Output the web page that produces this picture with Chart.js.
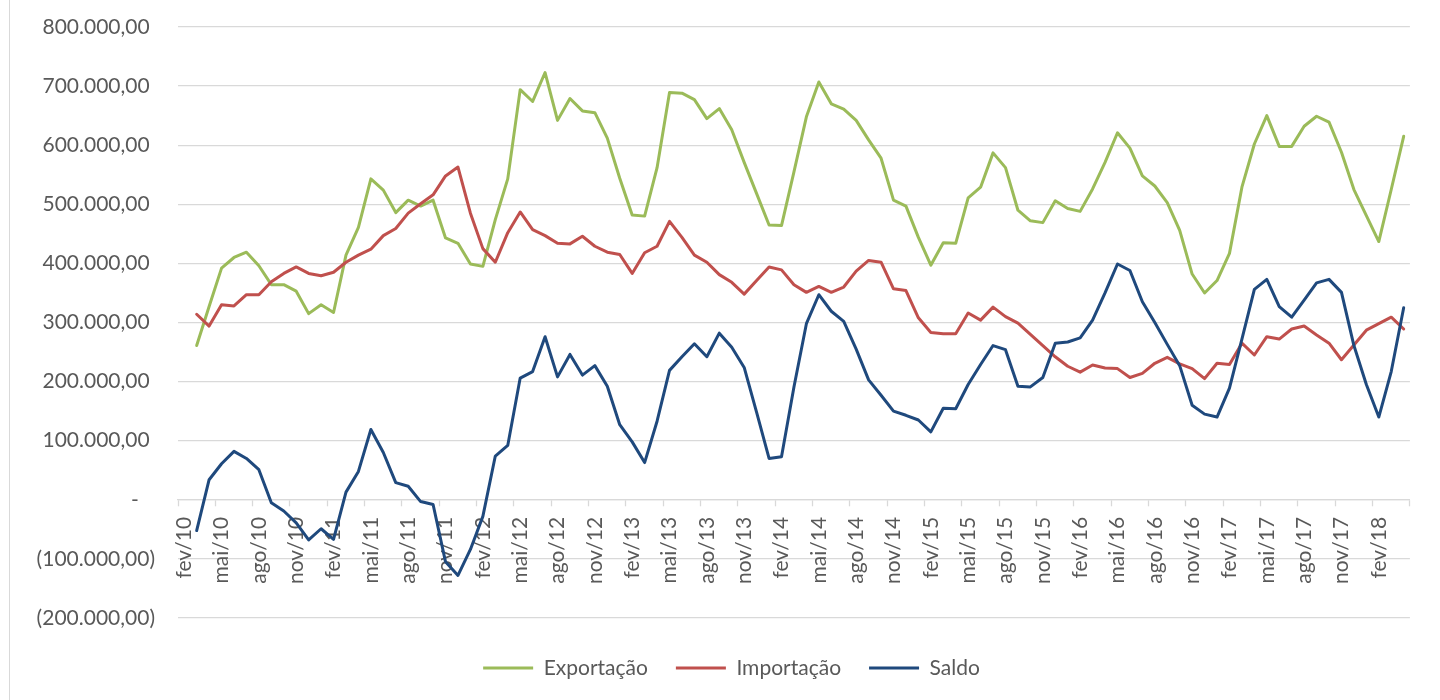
<!DOCTYPE html>
<html><head><meta charset="utf-8">
<script src="https://cdn.jsdelivr.net/npm/chart.js@4.4.0/dist/chart.umd.min.js"></script>
<style>
html,body{margin:0;padding:0;background:#fff;}
#wrap{position:relative;width:1440px;height:700px;overflow:hidden;background:#fff;}
#edge{position:absolute;left:9px;top:0;width:1px;height:700px;background:#d9d9d9;}
canvas{position:absolute;left:0;top:0;}
</style></head><body>
<div id="wrap"><div id="edge"></div><canvas id="c" width="1440" height="700"></canvas></div>
<script>
const monthNames = ['jan','fev','mar','abr','mai','jun','jul','ago','set','out','nov','dez'];
const firstYear = 2010, firstMonth = 1, monthCount = 99; // fev/10 .. abr/18
const categories = [];
for (let k = 0; k < monthCount; k++) {
  const m = (firstMonth + k) % 12, y = firstYear + Math.floor((firstMonth + k) / 12);
  categories.push(monthNames[m] + '/' + String(y).slice(2));
}

// values in R$ thousands (first category has no data)
const exportacao = [null,
  261,327,392,410,419,396,364,364,353,315,330,317,414,461,543,524,
  486,507,497,507,443,434,399,395,474,543,694,674,723,642,679,658,
  655,612,544,482,480,562,689,688,677,645,662,626,571,518,465,464,555,
  648,707,670,661,642,609,578,507,497,444,397,435,434,511,529,587,
  562,490,472,469,506,493,488,526,571,621,595,548,531,503,456,382,350,
  371,417,529,602,650,598,598,632,649,639,588,525,481,437,525,615];
const importacao = [null,
  314,294,330,328,347,347,369,383,394,383,379,385,402,414,424,447,
  459,485,501,516,548,563,485,425,402,452,487,457,447,434,433,446,
  429,419,415,383,418,429,471,444,414,402,381,368,348,371,394,389,364,
  351,361,351,360,387,405,402,357,354,308,283,281,281,316,304,326,
  310,299,280,261,242,226,216,228,223,222,207,214,231,241,230,222,205,
  231,229,265,245,276,272,289,294,279,265,237,262,287,298,309,289];
const saldo = [null,
  -52,34,61,82,70,51,-5,-19,-39,-68,-49,-67,13,48,119,80,
  29,23,-3,-8,-105,-128,-84,-28,74,92,206,217,276,208,246,211,
  227,192,127,98,63,133,219,242,264,242,282,258,224,148,70,73,191,
  298,347,319,302,255,203,177,150,143,135,115,155,154,195,229,261,
  254,192,191,207,265,267,274,304,350,399,388,335,300,263,227,160,145,
  140,189,272,356,373,327,309,338,367,373,351,261,195,140,217,325];

const yTickValues = [-200000,-100000,0,100000,200000,300000,400000,500000,600000,700000,800000];
const yTickLabels = ['(200.000,00)','(100.000,00)','-','100.000,00','200.000,00','300.000,00','400.000,00','500.000,00','600.000,00','700.000,00','800.000,00'];

const seriesNames = ['Exportação','Importação','Saldo'];
const seriesColors = ['#9BBB59','#C0504D','#1F497D'];
const seriesData = [exportacao, importacao, saldo];

Chart.defaults.font.family = 'Lato';
Chart.defaults.font.size = 21;
Chart.defaults.color = '#595959';

const datasets = seriesData.map((arr, i) => ({
  label: seriesNames[i],
  data: arr.map(v => v === null ? null : v * 1000),
  borderColor: seriesColors[i],
  backgroundColor: seriesColors[i],
  pointBorderColor: seriesColors[i],
  pointBackgroundColor: seriesColors[i],
  pointBorderWidth: 3,
  borderWidth: 3,
  pointRadius: 0,
  pointHoverRadius: 0,
  tension: 0,
  borderJoinStyle: 'round',
  borderCapStyle: 'round',
  order: 3 - i
}));

const shiftLegend = {
  id: 'shiftLegend',
  afterLayout(chart) { if (chart.legend) chart.legend.left = 46; }
};

new Chart(document.getElementById('c'), {
  type: 'line',
  data: { labels: categories, datasets },
  plugins: [shiftLegend],
  options: {
    responsive: false,
    animation: false,
    devicePixelRatio: 1,
    layout: { padding: { left: 0, right: 23, top: 27, bottom: 11.5 } },
    plugins: {
      tooltip: { enabled: false },
      legend: {
        position: 'bottom',
        title: { display: true, text: '', font: { size: 1 }, padding: { top: 10.3, bottom: 0 } },
        labels: {
          usePointStyle: true,
          pointStyle: 'line',
          pointStyleWidth: 50,
          padding: 28,
          color: '#595959',
          font: { size: 21 },
          sort: (a, b) => a.datasetIndex - b.datasetIndex
        }
      }
    },
    scales: {
      y: {
        min: -200000, max: 800000,
        afterFit: (s) => { s.width = 178; s.paddingTop = 0; s.paddingBottom = 0; },
        border: { display: false },
        grid: { color: '#d9d9d9', lineWidth: 1.3, drawTicks: false },
        ticks: {
          stepSize: 100000,
          padding: 23,
          color: '#595959',
          font: { size: 21 },
          callback: (v) => {
            const i = yTickValues.indexOf(v);
            if (i < 0) return '';
            const t = yTickLabels[i];
            if (t === '-') return t + '   ';
            return t.startsWith('(') ? t : t + ' ';
          }
        }
      },
      x: {
        type: 'category',
        offset: true,
        position: { y: 0 },
        border: { display: true, color: '#d9d9d9', width: 1.3 },
        grid: {
          offset: true,
          drawOnChartArea: false,
          drawTicks: true,
          tickLength: 6,
          tickWidth: 1.3,
          tickColor: (c) => (c.type !== 'tick' || c.index % 3 === 0) ? '#d9d9d9' : 'rgba(0,0,0,0)'
        },
        ticks: {
          autoSkip: false,
          maxRotation: 90,
          minRotation: 90,
          padding: 11,
          color: '#595959',
          font: { size: 21 },
          callback: (v, i) => i % 3 === 0 ? categories[i] : ''
        }
      }
    }
  }
});
</script>
</body></html>
